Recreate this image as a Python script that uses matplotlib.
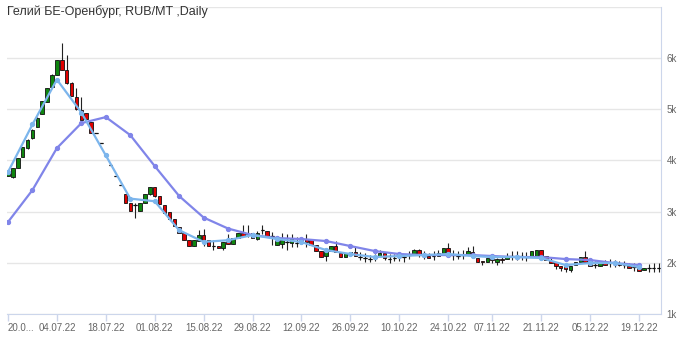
import matplotlib
matplotlib.use("Agg")
import matplotlib.pyplot as plt
import numpy as np
import pandas as pd

plt.rcParams["font.family"] = ["Liberation Sans", "DejaVu Sans"]

# trading days (Nov 4 is a holiday)
dates = pd.bdate_range("2022-06-20", "2022-12-23")
dates = dates[dates != pd.Timestamp("2022-11-04")]

opens = [3700, 3670, 3860, 4070, 4235, 4430, 4660, 4905, 5145, 5440,
         5680, 5960, 5765, 5520, 5245, 4985, 4925, 4750, 4530, 4340,
         4100, 3910, 3700, 3520, 3340, 3170, 3130, 3010, 3170, 3340,
         3480, 3300, 3130, 2990, 2855, 2700, 2580, 2445, 2330, 2430,
         2545, 2445, 2330, 2330, 2290, 2445, 2365, 2485, 2580, 2560,
         2580, 2470, 2640, 2620, 2520, 2350, 2370, 2400, 2390, 2380,
         2390, 2470, 2440, 2350, 2230, 2135, 2230, 2330, 2190, 2110,
         2150, 2210, 2110, 2090, 2080, 2100, 2140, 2190, 2080, 2100,
         2120, 2110, 2150, 2180, 2260, 2140, 2130, 2130, 2140, 2200,
         2290, 2150, 2140, 2160, 2170, 2210, 2095, 2040, 2015, 2080,
         2020, 2080, 2080, 2130, 2140, 2130, 2110, 2130, 2135, 2250,
         2135, 2040, 2010, 1940, 1920, 1860, 1960, 2020, 2110, 2000,
         1960, 1940, 1990, 1990, 1980, 1980, 1960, 1940, 1920, 1900,
         1860, 1900, 1900, 1900]
closes = [3780, 3850, 4040, 4255, 4410, 4605, 4840, 5160, 5420, 5680,
          5960, 5765, 5505, 5260, 5000, 4790, 4810, 4540, 4530, 4340,
          4100, 3910, 3700, 3520, 3170, 3010, 3130, 3170, 3340, 3480,
          3300, 3150, 2970, 2855, 2720, 2580, 2445, 2330, 2445, 2545,
          2425, 2330, 2330, 2290, 2405, 2365, 2485, 2580, 2520, 2560,
          2490, 2580, 2640, 2520, 2520, 2430, 2450, 2400, 2480, 2380,
          2480, 2400, 2350, 2230, 2115, 2250, 2330, 2210, 2110, 2190,
          2210, 2130, 2110, 2090, 2080, 2100, 2200, 2100, 2080, 2100,
          2120, 2110, 2150, 2260, 2160, 2140, 2100, 2130, 2190, 2290,
          2200, 2150, 2140, 2160, 2230, 2150, 2015, 2020, 2095, 2050,
          2080, 2060, 2120, 2130, 2140, 2130, 2110, 2230, 2250, 2135,
          2060, 2000, 1940, 1900, 1870, 1940, 2010, 2110, 2020, 1940,
          1960, 2000, 1960, 1990, 1980, 1950, 1960, 1900, 1920, 1850,
          1900, 1900, 1900, 1900]
highs = [3800, 3860, 4050, 4260, 4420, 4610, 4845, 5165, 5425, 5690,
         5970, 6290, 6060, 5525, 5410, 5240, 4930, 4755, 4530, 4340,
         4100, 3910, 3700, 3520, 3345, 3175, 3160, 3175, 3345, 3490,
         3485, 3305, 3135, 2995, 2860, 2705, 2585, 2450, 2450, 2640,
         2660, 2450, 2445, 2335, 2410, 2560, 2490, 2585, 2740, 2740,
         2585, 2620, 2740, 2625, 2600, 2435, 2580, 2560, 2560, 2500,
         2485, 2560, 2445, 2355, 2235, 2255, 2335, 2420, 2195, 2195,
         2215, 2300, 2220, 2200, 2150, 2180, 2260, 2195, 2180, 2170,
         2200, 2180, 2240, 2265, 2265, 2240, 2200, 2230, 2260, 2295,
         2390, 2260, 2240, 2260, 2300, 2330, 2100, 2045, 2100, 2150,
         2085, 2140, 2200, 2230, 2240, 2220, 2220, 2235, 2255, 2255,
         2140, 2110, 2015, 1945, 1925, 1945, 2015, 2115, 2240, 2005,
         2040, 2005, 2060, 2080, 2060, 2040, 2040, 2000, 1990, 1905,
         1905, 1980, 1990, 1990]
lows = [3690, 3660, 3850, 4065, 4230, 4425, 4655, 4900, 5140, 5435,
        5675, 5760, 5500, 5255, 4995, 4785, 4805, 4535, 4530, 4340,
        4100, 3910, 3700, 3520, 3165, 3005, 2875, 3005, 3165, 3335,
        3295, 3145, 2965, 2850, 2715, 2575, 2440, 2325, 2325, 2425,
        2330, 2325, 2250, 2285, 2250, 2360, 2360, 2480, 2515, 2500,
        2485, 2450, 2560, 2515, 2340, 2345, 2290, 2250, 2300, 2300,
        2385, 2300, 2345, 2225, 2110, 2040, 2225, 2205, 2105, 2105,
        2145, 2125, 2050, 2020, 2020, 2030, 2135, 2060, 2000, 2030,
        2040, 2020, 2080, 2175, 2110, 2080, 2095, 2060, 2135, 2195,
        2195, 2060, 2070, 2080, 2165, 2145, 2010, 1950, 2010, 2000,
        1960, 2000, 2075, 2050, 2060, 2050, 2040, 2125, 2130, 2130,
        2055, 1995, 1880, 1850, 1820, 1820, 1955, 2015, 2015, 1935,
        1900, 1935, 1955, 1920, 1910, 1945, 1900, 1895, 1850, 1845,
        1855, 1820, 1830, 1830]

# weekly lines (one point per Monday)
weekly_fast = [3774, 4704, 5581, 4938, 4099, 3255, 3203, 2637, 2409, 2442,
               2543, 2465, 2406, 2250, 2172, 2113, 2133, 2152, 2172, 2133,
               2113, 2113, 2094, 1957, 1996, 1996, 1918]
weekly_slow = [2797, 3422, 4242, 4730, 4848, 4496, 3891, 3305, 2885, 2670,
               2543, 2484, 2465, 2426, 2328, 2230, 2172, 2152, 2152, 2152,
               2133, 2113, 2113, 2074, 2055, 1996, 1957]

title = "Гелий БЕ-Оренбург, RUB/MT ,Daily"
y_ticks = [1000, 2000, 3000, 4000, 5000, 6000, 7000]
y_labels = ["1k", "2k", "3k", "4k", "5k", "6k", ""]

x = np.arange(len(dates))
o = np.array(opens)
c = np.array(closes)
mondays = x[dates.weekday == 0]
tick_pos = mondays[::2]
tick_labels = [d.strftime("%d.%m.%y") for d in dates[tick_pos]]
tick_labels[0] = "20.0..."

fig = plt.figure(figsize=(6.8, 3.38), dpi=100)
ax = fig.add_axes([7 / 680, 1 - 314 / 338, 654 / 680, 307 / 338])

axis_col = "#ccd6eb"
w = 0.72
up = c >= o
ax.vlines(x, lows, highs, color="#222222", linewidth=0.8, zorder=2)
ax.bar(x, np.abs(c - o), bottom=np.minimum(o, c), width=w,
       color=np.where(up, "#0f850f", "#e00000"), edgecolor="#111111",
       linewidth=0.6, zorder=3)
flat = o == c
ax.hlines(o[flat], x[flat] - w / 2, x[flat] + w / 2, color="#111111",
          linewidth=0.9, zorder=3)

ax.plot(mondays, weekly_slow, color="#8085e9", linewidth=1.6, marker="o",
        markersize=2.8, zorder=4)
ax.plot(mondays, weekly_fast, color="#7cb5ec", linewidth=1.6, marker="o",
        markersize=2.8, zorder=5)

ax.set_xlim(-0.2, 133.5)
ax.set_ylim(1000, 7000)
ax.set_yticks(y_ticks)
ax.set_yticklabels(y_labels)
ax.yaxis.tick_right()
ax.tick_params(axis="y", length=0, pad=4, labelsize=7, labelcolor="#666666")
ax.grid(axis="y", color="#e6e6e6", linewidth=1)
ax.set_axisbelow(True)

ax.set_xticks(tick_pos)
ax.set_xticklabels(tick_labels)
ax.tick_params(axis="x", length=5, width=1, color=axis_col, labelsize=7,
               labelcolor="#666666", pad=1.5)
ax.get_xticklabels()[0].set_horizontalalignment("left")

for side in ["top", "left"]:
    ax.spines[side].set_visible(False)
ax.spines["bottom"].set_color(axis_col)
ax.spines["right"].set_color(axis_col)

fig.text(7 / 680, 1 - 12 / 338, title, fontsize=9, color="#333333",
         va="center", ha="left")

fig.savefig("out.png", dpi=100)
